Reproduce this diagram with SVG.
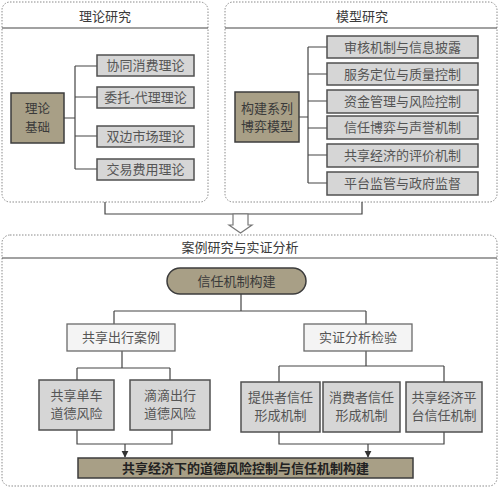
<svg xmlns="http://www.w3.org/2000/svg" width="499" height="488" viewBox="0 0 499 488">
<style>
text{font-family:"Noto Sans CJK SC","Noto Sans",sans-serif;font-size:13px;text-anchor:middle;fill:#3a3a3a}
.panel{fill:#fff;stroke:#8a8a8a;stroke-width:1;stroke-dasharray:1.5 1.5}
.hdr{stroke:#444;stroke-width:1.2}
.brown{fill:#a89f86;stroke:#3c3c3c;stroke-width:1.5}
.gbox{fill:#d6d6d6;stroke:#505050;stroke-width:1.5}
.lbox{fill:#f4f4f4;stroke:#6a6a6a;stroke-width:1.3}
.gt{fill:#555}
.ln{fill:none;stroke:#444;stroke-width:1.2}
.bold{font-weight:bold;fill:#222}
.sm{font-size:12.5px}
</style>
<defs>
<marker id="ah" viewBox="0 0 10 10" refX="9" refY="5" markerWidth="6" markerHeight="6" orient="auto">
<path d="M0,0 L10,5 L0,10 z" fill="#333"/>
</marker>
</defs>

<g id="panel-theory">
<rect class="panel" x="2" y="2" width="206" height="200" rx="8"/>
<line class="hdr" x1="2" y1="28" x2="208" y2="28"/>
<text x="105" y="20.5">理论研究</text>
</g>
<g id="panel-model">
<rect class="panel" x="225" y="2" width="272" height="200" rx="8"/>
<line class="hdr" x1="225" y1="28" x2="497" y2="28"/>
<text x="362" y="20.5">模型研究</text>
</g>
<g id="panel-case">
<rect class="panel" x="2" y="235" width="495" height="251" rx="8"/>
<line class="hdr" x1="2" y1="258" x2="497" y2="258"/>
<text x="240" y="251.5">案例研究与实证分析</text>
</g>

<g id="connectors">
<path class="ln" d="M64,118 H75 M75,66 V169 M75,66 H97 M75,97 H97 M75,136 H97 M75,169 H97"/>
<path class="ln" d="M299,117 H308 M308,47 V183 M308,47 H327 M308,74 H327 M308,101 H327 M308,128 H327 M308,155 H327 M308,183 H327"/>
<path class="ln" d="M105,202 V214 H362 V202"/>
<polygon points="233,214 248,214 248,225 252,225 240.5,233 229,225 233,225" fill="#fff" stroke="#777" stroke-width="1.2"/>
<path class="ln" d="M241,294 V311 M114,311 H366 M114,311 V324 M366,311 V324" stroke="#888"/>
<path class="ln" d="M122,351 V368 M77,368 H170 M77,368 V380 M170,368 V380"/>
<path class="ln" d="M366,351 V366 M279,366 H444 M279,366 V382 M444,366 V382"/>
<path class="ln" d="M77,430 V444 H172 V430"/>
<path class="ln" d="M279,432 V444 H444 V432"/>
<path class="ln" d="M125,444 V457" marker-end="url(#ah)"/>
<path class="ln" d="M368,444 V457" marker-end="url(#ah)"/>
</g>

<g id="n-theory-base"><rect class="brown" x="11" y="93" width="53" height="50"/><text class="sm" x="37.5" y="113">理论</text><text class="sm" x="37.5" y="131.5">基础</text></g>
<g id="n-t1"><rect class="gbox" x="97" y="55" width="97" height="21"/><text class="gt" x="145.5" y="70">协同消费理论</text></g>
<g id="n-t2"><rect class="gbox" x="97" y="87" width="97" height="21"/><text class="gt" x="145.5" y="102">委托-代理理论</text></g>
<g id="n-t3"><rect class="gbox" x="97" y="126" width="97" height="21"/><text class="gt" x="145.5" y="141">双边市场理论</text></g>
<g id="n-t4"><rect class="gbox" x="97" y="159" width="97" height="21"/><text class="gt" x="145.5" y="174">交易费用理论</text></g>

<g id="n-model"><rect class="brown" x="235" y="92" width="64" height="50"/><text x="267" y="112.5">构建系列</text><text x="267" y="131">博弈模型</text></g>
<g id="n-m1"><rect class="gbox" x="327" y="36" width="151" height="22"/><text class="gt" x="402.5" y="51.5">审核机制与信息披露</text></g>
<g id="n-m2"><rect class="gbox" x="327" y="63" width="151" height="22"/><text class="gt" x="402.5" y="78.5">服务定位与质量控制</text></g>
<g id="n-m3"><rect class="gbox" x="327" y="90" width="151" height="23"/><text class="gt" x="402.5" y="106">资金管理与风险控制</text></g>
<g id="n-m4"><rect class="gbox" x="327" y="116" width="151" height="23"/><text class="gt" x="402.5" y="132">信任博弈与声誉机制</text></g>
<g id="n-m5"><rect class="gbox" x="327" y="144" width="151" height="23"/><text class="gt" x="402.5" y="160">共享经济的评价机制</text></g>
<g id="n-m6"><rect class="gbox" x="327" y="172" width="151" height="23"/><text class="gt" x="402.5" y="188">平台监管与政府监督</text></g>

<g id="n-trust"><rect class="brown" x="167" y="268" width="139" height="26" rx="13"/><text x="236.5" y="285.5">信任机制构建</text></g>
<g id="n-case"><rect class="lbox" x="67" y="324" width="108" height="27"/><text class="gt" x="121" y="342">共享出行案例</text></g>
<g id="n-empir"><rect class="lbox" x="304" y="324" width="108" height="27"/><text class="gt" x="358" y="342">实证分析检验</text></g>

<g id="n-c1"><rect class="gbox" x="39" y="380" width="75" height="50"/><text class="gt" x="76.5" y="400">共享单车</text><text class="gt" x="76.5" y="418">道德风险</text></g>
<g id="n-c2"><rect class="gbox" x="130" y="380" width="80" height="50"/><text class="gt" x="170" y="400">滴滴出行</text><text class="gt" x="170" y="418">道德风险</text></g>
<g id="n-e1"><rect class="gbox" x="241" y="382" width="79" height="50"/><text class="gt" x="280.5" y="402">提供者信任</text><text class="gt" x="280.5" y="420">形成机制</text></g>
<g id="n-e2"><rect class="gbox" x="323" y="382" width="77" height="50"/><text class="gt" x="361.5" y="402">消费者信任</text><text class="gt" x="361.5" y="420">形成机制</text></g>
<g id="n-e3"><rect class="gbox" x="406" y="382" width="76" height="50"/><text class="gt" x="444" y="402">共享经济平</text><text class="gt" x="444" y="420">台信任机制</text></g>

<g id="n-final"><rect class="brown" x="78" y="458" width="335" height="20"/><text class="bold" x="245.5" y="472.5">共享经济下的道德风险控制与信任机制构建</text></g>
</svg>
